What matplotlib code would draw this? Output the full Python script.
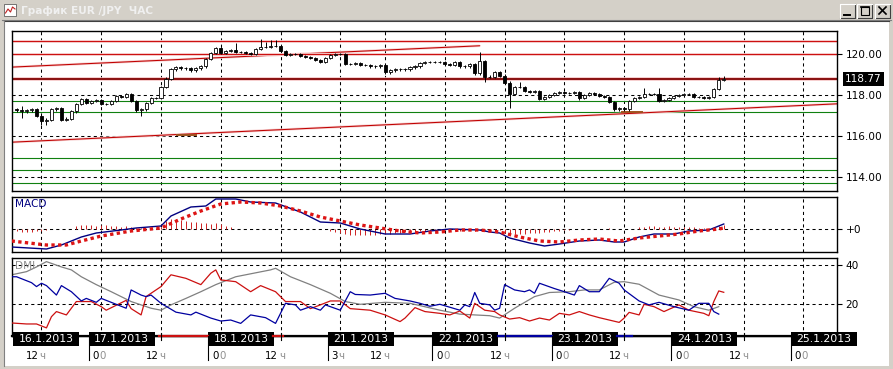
import numpy as np
import matplotlib
matplotlib.use("Agg")
import matplotlib.pyplot as plt
import matplotlib.transforms as mtransforms
from matplotlib.patches import Rectangle
from matplotlib.colors import LinearSegmentedColormap

# === HOURLY CANDLES, EUR/JPY (bar index = hour on the chart axis) ===
closes = [
    117.25, 117.2, 117.25, 117.3, 117.0, 116.75, 116.8, 117.3, 117.35, 116.8,
    116.85, 117.2, 117.55, 117.8, 117.6, 117.7, 117.75, 117.55, 117.55, 117.7,
    117.95, 117.9, 118.05, 117.7, 117.25, 117.3, 117.6, 117.85, 117.85, 118.4,
    118.8, 119.25, 119.35, 119.3, 119.3, 119.2, 119.3, 119.4, 119.75, 120.05,
    120.3, 120.05, 120.15, 120.2, 120.1, 120.1, 120.05, 120.0, 120.25, 120.35,
    120.35, 120.4, 120.4, 120.15, 119.95, 120.0, 120.0,
    119.9, 119.85, 119.8, 119.7, 119.6, 119.8, 119.95, 120.0, 120.0, 119.5,
    119.5, 119.55, 119.45, 119.45, 119.4, 119.4, 119.45, 119.1, 119.2, 119.25,
    119.25, 119.25, 119.35, 119.4, 119.55, 119.6, 119.6, 119.6, 119.6, 119.5,
    119.45, 119.6, 119.4, 119.4, 119.5, 119.05, 119.65, 118.9, 118.9, 119.1,
    118.95, 118.6, 118.05, 118.4, 118.4, 118.2, 118.15, 118.2, 117.8, 117.9,
    118.0, 118.1, 118.15, 118.1, 118.1, 118.15, 117.85, 118.0, 118.1, 118.05,
    117.95, 117.9, 117.65, 117.3, 117.35, 117.3, 117.7, 117.85, 117.9, 118.05,
    118.05, 118.05, 117.7, 117.75, 117.85, 117.95, 118.0, 118.05, 118.05, 117.9,
    117.9, 117.85, 117.9, 118.3, 118.73, 118.77,
]
first_open = 117.30
wick = 0.06
high_spikes = {1: 117.45, 44: 120.55, 49: 120.75, 50: 120.6, 51: 120.68, 52: 120.68,
               93: 120.1, 101: 118.65, 126: 118.33, 129: 118.33, 141: 118.9, 142: 118.95}
low_spikes = {1: 116.86, 5: 116.55, 6: 116.55, 25: 116.98, 94: 118.65, 99: 117.35, 113: 117.77}

# === DRAWN LEVELS ===
red_levels = [120.63, 120.00]
current_price = 118.77
green_levels = [117.70, 117.16, 114.91, 114.33, 113.69]
upper_trend_x, upper_trend_y = [-0.92, 93.0], [119.36, 120.40]
lower_trend_x, lower_trend_y = [-0.92, 164.74], [115.70, 117.57]
brown_x0 = [32.0, 121.4]
brown_x1 = [36.2, 125.8]
brown_y = [116.05, 117.17]

# === MACD ===
macd_x = [-1, 6, 9, 13, 16, 21, 24, 29, 31, 35, 38, 40, 44, 47, 52, 57, 61, 65, 69, 74,
          79, 83, 87, 93, 95, 97, 99, 103, 106, 109, 113, 117, 120, 122, 125, 128, 132, 135, 139, 142]
macd_y = [-18, -20, -16, -8, -4, -1, 1, 3, 13, 22, 23, 30, 30, 27, 26, 17, 7, 6, 0, -5,
          -5, -2, 0, -1, -3, -4, -9, -14, -17, -15, -12, -11, -13, -13, -8, -5, -5, -2, -1, 5]
signal_x = [-1, 6, 10, 13, 17, 23, 29, 33, 37, 41, 45, 49, 53, 57, 61, 65, 69, 73, 77, 81,
            85, 89, 93, 97, 101, 105, 109, 113, 117, 121, 125, 129, 133, 137, 141, 142]
signal_y = [-12, -16, -16, -12, -7, -2, 1, 10, 18, 25, 27, 26, 23, 18, 12, 8, 4, 1, -2, -4,
            -3, -1, -1, -3, -8, -12, -13, -11, -10, -12, -9, -7, -5, -2, 0, 1]
macd_hist = ([-2, -3, -3, -3, -2, -2, -1] + [0] * 5
             + [3, 4, 4, 4, 3, 4, 4, 3, 3, 2, 3, 2] + [1, 1, 0, 0, 1]
             + [2, 8, 10, 10, 9, 8, 7, 7, 6, 6, 5, 6, 5, 3, 2] + [0] * 19
             + [-2, -3, -4, -5, -6, -6, -6, -6, -6, -6, -5, -5, -5, -4, -4, -3, -3, -3, -2, -2, -2, -1, -1]
             + [-1, -2, -1, -2, -1, -1, -2, -1, -1, -2, -1, -1]
             + [-4, -5, -5, -5, -5, -4, -4, -4, -3, -3, -2, -2, -1, -1]
             + [0, 0, 0, 0, 0, 0, 0, 1, 0, 0, 0, 0, 0]
             + [2, 2, 3, 3, 2, 2, 3, 2, 2, 2, 2, 2, 1, 1, 1] + [2, 3, 4])

# === DMI ===
minus_x = [-1, 0, 3, 4, 5, 6, 8, 9, 11, 13, 14, 16, 17, 19, 22, 23, 25, 26, 27, 29,
           32, 35, 36, 39, 41, 43, 45, 47, 50, 52, 54, 56, 57, 59, 61, 62, 65, 67, 68, 71,
           74, 76, 79, 81, 83, 85, 89, 90, 91, 92, 93, 95, 96, 97, 98, 100, 102, 103, 104, 105,
           108, 110, 112, 113, 115, 117, 119, 121, 122, 125, 127, 129, 132, 135, 137, 139, 140, 141]
minus_y = [34, 34, 31, 29, 30.7, 29.5, 24.7, 29.5, 26.4, 21.7, 23, 21, 23, 21, 18, 27.3, 24.7, 23.9, 24.7, 20.5,
           16, 14.6, 16, 13, 11.5, 12, 10.3, 14.6, 13.2, 10.3, 20.5, 19.7, 17, 18.8, 17, 19.7, 17, 26.4, 25, 24.7,
           25.6, 23, 21.7, 20.5, 19, 20, 17, 19.7, 18.8, 26, 20.5, 19.7, 17, 18, 30, 27.3, 26.4, 27.3, 25.6, 30.7,
           28, 26.4, 24.7, 29.5, 26.4, 26.4, 33.2, 30.7, 27.3, 21.7, 19.7, 21, 18.8, 17, 20.5, 20.5, 16.3, 15]
plus_x = [-1, 2, 4, 6, 7, 8, 10, 12, 15, 17, 18, 22, 23, 25, 26, 29, 31, 34, 37, 39,
          40, 41, 44, 47, 49, 52, 54, 57, 59, 61, 63, 65, 67, 71, 74, 77, 78, 80, 82, 85,
          87, 89, 91, 92, 94, 96, 97, 99, 101, 103, 105, 107, 109, 111, 113, 115, 117, 119, 121, 122,
          123, 125, 126, 128, 130, 133, 135, 138, 139, 140, 141, 142]
plus_y = [10.5, 10, 10, 8, 13.7, 16.3, 14.6, 21.4, 21.4, 18.8, 17, 22, 17.8, 14.6, 23.9, 29, 35, 33.2, 30, 35.8,
          37.5, 32.4, 31.5, 26.4, 29.5, 26.4, 21.4, 21.4, 17.8, 19.7, 21.7, 21.7, 17.8, 17, 14.6, 11.2, 13, 18.3, 16.3, 15.4,
          14.6, 16.6, 13, 20.5, 17, 16.3, 14.6, 12.5, 13.2, 11.5, 13, 12, 15.4, 14.6, 16.3, 14.6, 13.2, 12, 10.8, 13,
          15.9, 14.6, 20, 18.8, 16.3, 19.7, 17, 15.4, 14.2, 21.4, 26.8, 26.1]
adx_x = [-1, 2, 4, 6, 9, 11, 13, 16, 19, 23, 27, 29, 31, 34, 37, 40, 44, 48, 51, 52,
         55, 59, 63, 66, 69, 74, 79, 85, 89, 95, 97, 100, 104, 107, 111, 114, 117, 120, 122, 125,
         129, 133, 136, 139, 141]
adx_y = [35, 36.6, 39, 41.7, 39, 37.5, 34, 30, 26.4, 21.4, 18, 17, 19.7, 23, 26.4, 30, 34, 36, 37.5, 38.3,
         34, 30, 25.6, 21.4, 20, 21, 20.5, 17, 15, 14.2, 13, 18, 23.9, 26, 26.4, 27.3, 27.3, 31.2, 31.5, 30.2,
         24.7, 22.2, 18.8, 17, 18.8]

# === TIME AXIS ===
grid_hours = [5, 17, 29, 41, 53, 65, 74, 86, 98, 110, 122, 134, 146, 158]
hour_nums = ['12', '0', '12', '0', '12', '3', '12', '0', '12', '0', '12', '0', '12', '0']
hour_suffix = ['ч', '0', 'ч', '0', 'ч', 'ч', 'ч', '0', 'ч', '0', 'ч', '0', 'ч', '0']
day_starts = [-0.72, 14.5, 38.5, 62.5, 83.5, 107.5, 131.5, 155.5]
day_labels = ['16.1.2013', '17.1.2013', '18.1.2013', '21.1.2013',
              '22.1.2013', '23.1.2013', '24.1.2013', '25.1.2013']
red_spans = [(28.6, 38.5), (51.5, 53.5)]
blue_spans = [(96.7, 107.5), (120.6, 123.6)]

# === FIGURE / PANELS (pixel layout) ===
W, H = 893, 369
fig = plt.figure(figsize=(W / 100, H / 100), dpi=100)
fig.patch.set_facecolor('white')


def pbox(x0, y0, x1, y1):
    return [x0 / W, 1 - y1 / H, (x1 - x0) / W, (y1 - y0) / H]


bg = fig.add_axes([0, 0, 1, 1], zorder=-1)
ax = fig.add_axes(pbox(12, 31, 837, 191))
axm = fig.add_axes(pbox(12, 197, 837, 252), sharex=ax)
axd = fig.add_axes(pbox(12, 258, 837, 336), sharex=ax)
fg = fig.add_axes([0, 0, 1, 1], zorder=10)
for a in (bg, fg):
    a.set_xlim(0, W)
    a.set_ylim(H, 0)
    a.axis('off')
fg.patch.set_alpha(0)

# --- window chrome ---
bg.add_patch(Rectangle((0, 0), W, H, fc='#d4d0c8', ec='none'))
bg.add_patch(Rectangle((4, 21), W - 8, H - 24, fc='white', ec='none'))
grad = LinearSegmentedColormap.from_list('cap', ['#7f7f7f', '#c4c4c4'])
bg.imshow(np.linspace(0, 1, 256).reshape(1, -1), cmap=grad, extent=(2, W - 2, 19, 1), aspect='auto')
bg.plot([2, W - 2], [20, 20], color='#808080', lw=0.8)
bg.plot([4, W - 4], [21, 21], color='#404040', lw=0.8)
bg.plot([3.5, 3.5], [21, H - 3], color='#808080', lw=0.8)
bg.add_patch(Rectangle((4, 4), 12, 12, fc='white', ec='#606060', lw=0.6))
bg.plot([5.5, 8, 10.5, 12.5, 15], [13, 9, 12, 7, 9], color='#c02020', lw=0.8)
bg.text(21, 10.5, 'График EUR /JPY  ЧАС', color='#f0f0f0', fontsize=7.6,
        fontweight='bold', ha='left', va='center')
for bx, glyph in zip([840, 857, 875], ['min', 'max', 'close']):
    bg.add_patch(Rectangle((bx, 4), 15, 14, fc='#d4d0c8', ec='none'))
    bg.plot([bx, bx + 15, bx + 15], [18, 18, 4], color='#404040', lw=0.8)
    bg.plot([bx, bx, bx + 15], [18, 4, 4], color='white', lw=0.8)
    if glyph == 'min':
        bg.plot([bx + 4, bx + 10], [14.5, 14.5], color='black', lw=1.4)
    elif glyph == 'max':
        bg.add_patch(Rectangle((bx + 3.5, 6.5), 8, 8, fc='none', ec='black', lw=0.8))
        bg.plot([bx + 3.5, bx + 11.5], [7.2, 7.2], color='black', lw=1.2)
    else:
        bg.plot([bx + 4, bx + 11], [7, 14], color='black', lw=1.2)
        bg.plot([bx + 4, bx + 11], [14, 7], color='black', lw=1.2)

# --- common panel styling ---
dash = (0, (3, 3))
for a in (ax, axm, axd):
    a.set_facecolor('white')
    a.set_xlim(-0.92, 164.74)
    a.set_xticks(grid_hours)
    a.tick_params(axis='x', length=0, labelbottom=False)
    a.yaxis.tick_right()
    a.tick_params(axis='y', length=3.6, width=0.8, pad=2.5, labelsize=7.6, colors='black')
    a.grid(True, color='black', lw=0.75, linestyle=dash)
    a.set_axisbelow(True)
    for s in a.spines.values():
        s.set_linewidth(1.0)

# === MAIN PRICE PANEL ===
ax.set_ylim(113.32, 121.12)
ax.set_yticks([114, 116, 118, 120])
ax.set_yticklabels(['114.00', '116.00', '118.00', '120.00'])

for lvl in green_levels:
    ax.axhline(lvl, color='#108010', lw=0.8, zorder=1.5)
ax.plot(lower_trend_x, lower_trend_y, color='#f6d0d0', lw=1.8, zorder=1.6, solid_capstyle='butt')
ax.plot(lower_trend_x, lower_trend_y, color='#c00000', lw=0.75, zorder=1.7)
ax.plot(upper_trend_x, upper_trend_y, color='#f6d0d0', lw=1.8, zorder=1.6, solid_capstyle='butt')
ax.plot(upper_trend_x, upper_trend_y, color='#c00000', lw=0.75, zorder=1.7)
ax.hlines(brown_y, brown_x0, brown_x1, color='#a0521e', lw=1.4, zorder=1.8)
for lvl in red_levels:
    ax.axhline(lvl, color='#f6c8c8', lw=2.0, zorder=1.8)
    ax.axhline(lvl, color='#cc1010', lw=0.75, zorder=1.9)
ax.axhline(current_price, color='#f4c4c4', lw=2.6, zorder=1.8)
ax.axhline(current_price, color='#800000', lw=1.3, zorder=1.9)

n = len(closes)
xs = np.arange(n)
c = np.array(closes)
o = np.array([first_open] + closes[:-1])
hi = np.maximum(o, c) + wick
lo = np.minimum(o, c) - wick
for k, v in high_spikes.items():
    hi[k] = v
for k, v in low_spikes.items():
    lo[k] = v
ax.vlines(xs, lo, hi, color='black', lw=0.7, zorder=3)
body_colors = ['white' if cc >= oo else 'black' for oo, cc in zip(o, c)]
ax.bar(xs, c - o, bottom=o, width=0.62, color=body_colors, edgecolor='black', lw=0.6, zorder=4)

ax.annotate(f'{current_price:.2f}', xy=(1, current_price), xycoords=('axes fraction', 'data'),
            xytext=(8, 0), textcoords='offset pixels', color='white', fontsize=7.6,
            ha='left', va='center', annotation_clip=False,
            bbox=dict(boxstyle='square,pad=0.18', fc='black', ec='none'))

# === MACD PANEL ===
axm.set_ylim(-23, 32)
axm.set_yticks([0])
axm.set_yticklabels(['+0'])
axm.vlines(xs, 0, macd_hist, color='#cc2020', lw=0.7, zorder=2)
axm.plot(macd_x, macd_y, color='#000080', lw=1.0, zorder=3)
axm.plot(signal_x, signal_y, color='#dd1515', lw=2.4, linestyle=(0, (1, 1)), zorder=4)
axm.text(0.004, 0.88, 'MACD', transform=axm.transAxes, color='#000080', fontsize=7.6,
         ha='left', va='center')

# === DMI PANEL ===
axd.set_ylim(3.88, 43.54)
axd.set_yticks([20, 40])
axd.plot(adx_x, adx_y, color='#808080', lw=0.9, zorder=2)
axd.plot(plus_x, plus_y, color='#cc1010', lw=0.9, zorder=3)
axd.plot(minus_x, minus_y, color='#0000a0', lw=0.9, zorder=3)
axd.text(0.004, 0.9, 'DMI', transform=axd.transAxes, color='#909090', fontsize=7.6,
         ha='left', va='center')

# === DATE BAR ===
trans = mtransforms.blended_transform_factory(ax.transData, fg.transData)
fg.plot([-0.92, 164.74], [336, 336], color='black', lw=1.6, transform=trans, clip_on=False)
for x0, x1 in red_spans:
    fg.plot([x0, x1], [336, 336], color='#cc1010', lw=1.6, transform=trans, clip_on=False)
for x0, x1 in blue_spans:
    fg.plot([x0, x1], [336, 336], color='#0000a0', lw=1.6, transform=trans, clip_on=False)
for g in grid_hours:
    fg.plot([g, g], [333, 340], color='black', lw=0.8, transform=trans, clip_on=False)
for ds, lab in zip(day_starts, day_labels):
    if ds > 0:
        fg.plot([ds, ds], [336, 360], color='black', lw=0.8, transform=trans, clip_on=False)
    fg.add_patch(Rectangle((ds, 332), 13.2, 14, fc='black', ec='none', transform=trans, clip_on=False))
    fg.text(ds + 6.6, 339.5, lab, color='white', fontsize=7.8, ha='center', va='center',
            transform=trans, clip_on=False)
# hour labels: number in black, suffix in grey, joined at one anchor
for g, num, suf in zip(grid_hours, hour_nums, hour_suffix):
    fg.text(g - 0.45, 356, num, color='black', fontsize=7.4, ha='right', va='center',
            transform=trans, clip_on=False)
    fg.text(g - 0.35, 356, suf, color='#909090', fontsize=7.4, ha='left', va='center',
            transform=trans, clip_on=False)

fig.savefig('out.png', dpi=100, facecolor='white')
